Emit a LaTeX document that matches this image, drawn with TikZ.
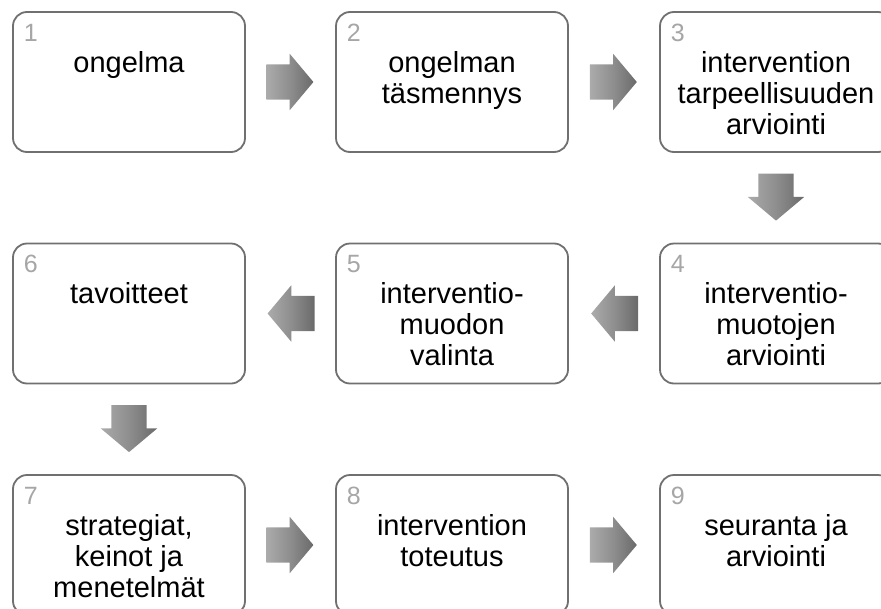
\documentclass[tikz,border=0pt]{standalone}
\usepackage{fontspec}
\setmainfont{Liberation Sans}
\usetikzlibrary{shapes.arrows,calc}
\definecolor{boxline}{HTML}{707070}
\definecolor{numgray}{HTML}{A6A6A6}
\definecolor{arrlight}{HTML}{ABABAB}
\definecolor{arrdark}{HTML}{6A6A6A}
\tikzset{
  stepbox/.style={draw=boxline, line width=1.8pt, fill=white, rounded corners=14pt,
    minimum width=232pt, minimum height=140pt, inner sep=0pt},
  txt/.style={font=\fontsize{29}{31}\selectfont, align=center, inner sep=0pt, anchor=base},
  num/.style={font=\fontsize{25}{28}\selectfont, text=numgray, inner sep=0pt, anchor=base west},
  blockarrow/.style={single arrow, draw=none, inner xsep=0pt, inner ysep=17.5pt,
    minimum height=47pt, single arrow head extend=10.5pt, single arrow tip angle=100,
    left color=arrlight, right color=arrdark, middle color=arrlight!55!arrdark},
}
\begin{document}
\begin{tikzpicture}[x=1pt,y=-1pt]
\useasboundingbox (0,0) rectangle (881,608);
\clip (0,0) rectangle (881,608);
% boxes
\node[stepbox] (b1) at (129,82) {};
\node[stepbox] (b2) at (452,82) {};
\node[stepbox] (b3) at (776,82) {};
\node[stepbox] (b4) at (776,313.5) {};
\node[stepbox] (b5) at (452,313.5) {};
\node[stepbox] (b6) at (129,313.5) {};
\node[stepbox] (b7) at (129,545) {};
\node[stepbox] (b8) at (452,545) {};
\node[stepbox] (b9) at (776,545) {};
% numbers
\foreach \i in {1,...,9}{
  \node[num] (n\i) at ([xshift=11.5pt,yshift=-30pt]b\i.north west) {\i};
}
% texts (base anchor = last line baseline)
\node[txt] (t1) at ([yshift=-61pt]b1.north) {ongelma};
\node[txt] (t2) at ([yshift=-92pt]b2.north) {ongelman\\täsmennys};
\node[txt] (t3) at ([yshift=-123pt]b3.north) {intervention\\tarpeellisuuden\\arviointi};
\node[txt] (t4) at ([yshift=-123pt]b4.north) {interventio-\\muotojen\\arviointi};
\node[txt] (t5) at ([yshift=-123pt]b5.north) {interventio-\\muodon\\valinta};
\node[txt] (t6) at ([yshift=-61pt]b6.north) {tavoitteet};
\node[txt] (t7) at ([yshift=-123pt]b7.north) {strategiat,\\keinot ja\\menetelmät};
\node[txt] (t8) at ([yshift=-92pt]b8.north) {intervention\\toteutus};
\node[txt] (t9) at ([yshift=-92pt]b9.north) {seuranta ja\\arviointi};
% arrows
\path (b1.east) -- node[blockarrow, pos=0.41] (a12) {} (b2.west);
\path (b2.east) -- node[blockarrow, pos=0.41] (a23) {} (b3.west);
\path (b3.south) -- node[blockarrow, rotate=-90, pos=0.41] (a34) {} (b4.north);
\path (b4.west) -- node[blockarrow, rotate=180, pos=0.41] (a45) {} (b5.east);
\path (b5.west) -- node[blockarrow, rotate=180, pos=0.41] (a56) {} (b6.east);
\path (b6.south) -- node[blockarrow, rotate=-90, pos=0.41] (a67) {} (b7.north);
\path (b7.east) -- node[blockarrow, pos=0.41] (a78) {} (b8.west);
\path (b8.east) -- node[blockarrow, pos=0.41] (a89) {} (b9.west);
\end{tikzpicture}
\end{document}
